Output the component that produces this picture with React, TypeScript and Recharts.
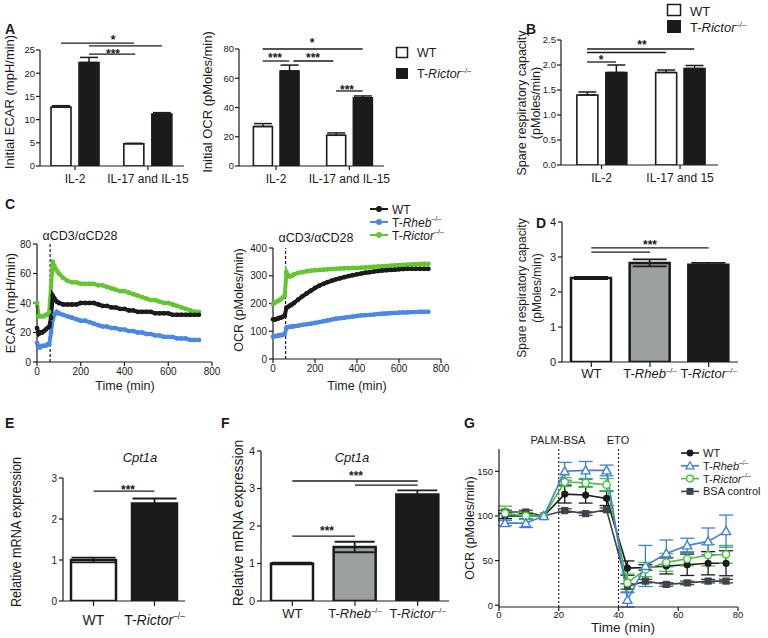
import React from 'react';
import { Bar, BarChart, Cell, ErrorBar, Line, LineChart, ReferenceLine, XAxis, YAxis } from 'recharts';

const FONT = '"Liberation Sans", Arial, Helvetica, sans-serif';
const INK = '#1b1b1b';
const GREY = '#9aa19f';
const GREEN = '#62c72f';
const BLUE = '#4a88e6';
const G_BLUE = '#3f7fe0';
const G_GREEN = '#46c43a';
const G_DARK = '#3d454c';

// ---- A: initial ECAR / OCR ----
const aGroups = ['IL-2', 'IL-17 and IL-15'];
const aEcarWT = [12.7, 4.8];
const aEcarWTErr = [0.3, 0.1];
const aEcarKO = [22.3, 11.2];
const aEcarKOErr = [1.1, 0.3];
const aEcarTicks = [0, 5, 10, 15, 20, 25];
const aOcrWT = [27, 21];
const aOcrWTErr = [2, 1.6];
const aOcrKO = [65, 46.7];
const aOcrKOErr = [4, 1.2];
const aOcrTicks = [0, 20, 40, 60, 80];

// ---- B: spare respiratory capacity ----
const bGroups = ['IL-2', 'IL-17 and 15'];
const bWT = [1.4, 1.85];
const bWTErr = [0.06, 0.05];
const bKO = [1.85, 1.93];
const bKOErr = [0.15, 0.06];
const bTicks = [0, 0.5, 1, 1.5, 2, 2.5];

// ---- C: time courses ----
const cTime = [0, 8, 16, 24, 32, 40, 48, 56, 64, 72, 80, 90, 100, 120, 140, 160, 180, 200, 220, 240, 260, 280, 300, 320, 340, 360, 380, 400, 420, 440, 460, 480, 500, 520, 540, 560, 580, 600, 620, 640, 660, 680, 700, 720, 740];
const cEcarWT = [23, 19, 20, 20, 21, 22, 23, 24, 30, 45, 43, 41, 40, 39, 39, 39, 39, 40, 40, 40, 40, 39, 38, 38, 37, 37, 36, 36, 35, 35, 34, 34, 34, 34, 33, 33, 33, 33, 32, 32, 32, 32, 32, 32, 32];
const cEcarRictor = [40, 31, 31, 31, 31, 32, 32, 34, 51, 68, 65, 62, 60, 57, 55, 54, 54, 53, 53, 53, 53, 52, 52, 51, 50, 49, 48, 48, 47, 46, 45, 44, 43, 42, 42, 41, 40, 40, 39, 38, 37, 36, 35, 34, 34];
const cEcarRheb = [13, 10, 10, 11, 11, 11, 12, 12, 20, 29, 32, 34, 33, 32, 31, 30, 29, 28, 28, 27, 26, 25, 24, 24, 23, 23, 22, 22, 21, 21, 20, 20, 19, 19, 18, 18, 17, 17, 17, 16, 16, 16, 15, 15, 15];
const cOcrWT = [143, 142, 144, 146, 148, 150, 153, 156, 185, 188, 192, 196, 202, 214, 226, 236, 246, 256, 264, 271, 277, 282, 287, 291, 295, 299, 302, 305, 308, 311, 313, 315, 317, 319, 320, 321, 322, 323, 324, 325, 325, 325, 325, 325, 325];
const cOcrRictor = [198, 203, 206, 209, 213, 217, 222, 228, 312, 300, 297, 300, 305, 310, 313, 316, 318, 320, 321, 322, 323, 324, 325, 326, 327, 327, 328, 328, 329, 330, 331, 332, 333, 334, 335, 336, 337, 338, 339, 340, 341, 342, 342, 343, 343];
const cOcrRheb = [80, 82, 83, 84, 85, 86, 88, 90, 113, 115, 116, 117, 118, 120, 123, 125, 127, 130, 133, 136, 139, 142, 145, 147, 149, 151, 153, 155, 157, 158, 159, 160, 162, 163, 164, 165, 166, 167, 168, 168, 169, 169, 170, 170, 170];
const cXTicks = [0, 200, 400, 600, 800];
const cEcarTicks = [0, 20, 40, 60, 80];
const cOcrTicks = [0, 100, 200, 300, 400];

// ---- D ----
const dCats = ['WT', 'T-Rheb', 'T-Rictor'];
const dVals = [2.4, 2.83, 2.78];
const dErr = [0.03, 0.1, 0.05];
const dTicks = [0, 1, 2, 3, 4];

// ---- E ----
const eCats = ['WT', 'T-Rictor'];
const eVals = [1.0, 2.38];
const eErr = [0.06, 0.12];
const eTicks = [0, 1, 2, 3];

// ---- F ----
const fCats = ['WT', 'T-Rheb', 'T-Rictor'];
const fVals = [1.0, 1.44, 2.84];
const fErr = [0.02, 0.14, 0.11];
const fTicks = [0, 1, 2, 3, 4];

// ---- G ----
const gTime = [2, 9, 15, 22, 29, 36, 43, 49, 56, 63, 70, 76];
const gWT = [100, 100, 100, 124.5, 123.4, 119.7, 41.6, 42.3, 44, 45.3, 47, 47];
const gWTErr = [3, 3, 0, 10, 9, 8, 8, 3, 9, 12, 13, 14];
const gRheb = [92, 92, 100, 150, 151, 151, 6, 44, 58, 67, 71.5, 83];
const gRhebErr = [3, 5, 0, 10, 10, 6, 8, 23, 15, 8, 15, 18];
const gRictor = [103, 100, 100, 138, 137, 135, 25, 40, 48, 52, 56, 57];
const gRictorErr = [8, 4, 0, 5, 5, 7, 10, 8, 10, 8, 12, 10];
const gBsa = [104.4, 104.4, 100, 106, 102.6, 107, 21, 27, 23.3, 25, 27, 27];
const gBsaErr = [2, 2, 0, 2, 2, 2, 3, 2, 2, 2, 2, 2];
const gXTicks = [0, 20, 40, 60, 80];
const gYTicks = [0, 50, 100, 150];

// significance brackets: [from, to, height]
const aEcarSig = [[1, 3.6, 26.5], [2, 4.6, 25.9], [2, 3.65, 24.1]];
const aOcrSig = [[1, 4.75, 80], [1, 2, 71.8], [2.15, 3.65, 71.8], [3.75, 4.75, 51.3]];
const bSig = [[1, 4.7, 2.32], [1, 3.72, 2.25], [1, 2, 2.06]];
const dSig: [string, string, number][] = [['WT', 'T-Rictor', 3.26], ['WT', 'T-Rheb', 3.14]];
const eSig: [string, string, number][] = [['WT', 'T-Rictor', 2.68]];
const fSig: [string, string, number][] = [['WT', 'T-Rheb', 1.73], ['WT', 'T-Rictor', 3.2], ['T-Rheb', 'T-Rictor', 3.09]];

const axisLine = { stroke: INK, strokeWidth: 1.2 };
const tickLine = { stroke: INK, strokeWidth: 1.2 };

type Box = { style: React.CSSProperties; width: number; height: number; margin: any; yw: number; xh: number };

function frame(pl: number, pt: number, pr: number, pb: number, mt = 16, xh = 26, yw = 32, mr = 24): Box {
  const left = pl - yw;
  const top = pt - mt;
  return {
    style: { position: 'absolute', left, top },
    width: pr - left + mr,
    height: pb - top + xh,
    margin: { top: mt, right: mr, bottom: 0, left: 0 },
    yw,
    xh,
  };
}

function Gene({ name, size }: { name: string; size: number }) {
  if (!name.startsWith('T-')) return <tspan>{name}</tspan>;
  return (
    <>
      <tspan>T-</tspan>
      <tspan fontStyle="italic">{name.slice(2)}</tspan>
      <tspan fontSize={size * 0.6} dy={-size * 0.42}>–/–</tspan>
    </>
  );
}

const geneTick = (size: number, drop: number) => (p: any) => (
  <text x={p.x} y={p.y + drop} textAnchor="middle" fontSize={size} fill={INK} fontFamily={FONT}>
    <Gene name={p.payload.value} size={size} />
  </text>
);

function groupRows(wt: number[], wtErr: number[], ko: number[], koErr: number[], slots: number[]) {
  return [
    { pos: slots[0], v: wt[0], err: [0, wtErr[0]], fill: '#fff' },
    { pos: slots[1], v: ko[0], err: [0, koErr[0]], fill: INK },
    { pos: slots[2], v: wt[1], err: [0, wtErr[1]], fill: '#fff' },
    { pos: slots[3], v: ko[1], err: [0, koErr[1]], fill: INK },
  ];
}

function GroupBars(props: {
  box: Box; rows: any[]; domain: [number, number]; labelPos: number[]; labels: string[];
  yMax: number; yTicks: number[]; yFmt?: (v: number) => string; sig: number[][]; barSize: number; cap: number;
}) {
  const { box, rows } = props;
  return (
    <div style={box.style}>
      <BarChart width={box.width} height={box.height} data={rows} margin={box.margin}>
        <XAxis
          type="number"
          dataKey="pos"
          domain={props.domain}
          ticks={props.labelPos}
          tickFormatter={(v: number) => props.labels[props.labelPos.indexOf(v)] ?? ''}
          height={box.xh}
          axisLine={axisLine}
          tickLine={tickLine}
          tickSize={4}
          tickMargin={4}
          interval={0}
          allowDataOverflow
          tick={{ fontSize: 12, fill: INK, fontFamily: FONT }}
        />
        <YAxis
          type="number"
          domain={[0, props.yMax]}
          ticks={props.yTicks}
          width={box.yw}
          tickFormatter={props.yFmt}
          axisLine={axisLine}
          tickLine={tickLine}
          tickSize={4}
          tickMargin={1}
          interval={0}
          allowDataOverflow
          tick={{ fontSize: 9.5, fill: INK, fontFamily: FONT }}
        />
        <Bar dataKey="v" barSize={props.barSize} stroke={INK} strokeWidth={1.6} isAnimationActive={false}>
          {rows.map((r, i) => (
            <Cell key={i} fill={r.fill} />
          ))}
          <ErrorBar dataKey="err" width={props.cap} stroke={INK} strokeWidth={1.5} direction="y" />
        </Bar>
        {props.sig.map(([x1, x2, y], i) => (
          <ReferenceLine key={i} segment={[{ x: x1, y }, { x: x2, y }]} stroke={INK} strokeWidth={1.3} ifOverflow="visible" />
        ))}
      </BarChart>
    </div>
  );
}

function CatBars(props: {
  box: Box; cats: string[]; vals: number[]; errs: number[]; fills: string[]; yMax: number; yTicks: number[];
  sig: [string, string, number][]; barSize: number; cap: number; fs: number; drop: number; tfs: number;
}) {
  const { box } = props;
  const rows = props.cats.map((c, i) => ({ name: c, v: props.vals[i], e: props.errs[i], fill: props.fills[i] }));
  return (
    <div style={box.style}>
      <BarChart width={box.width} height={box.height} data={rows} margin={box.margin}>
        <XAxis
          dataKey="name"
          type="category"
          height={box.xh}
          axisLine={axisLine}
          tickLine={tickLine}
          tickSize={5}
          tickMargin={2}
          interval={0}
          tick={geneTick(props.fs, props.drop)}
        />
        <YAxis
          type="number"
          domain={[0, props.yMax]}
          ticks={props.yTicks}
          width={box.yw}
          axisLine={axisLine}
          tickLine={tickLine}
          tickSize={4}
          interval={0}
          allowDataOverflow
          tick={{ fontSize: props.tfs, fill: INK, fontFamily: FONT }}
        />
        <Bar dataKey="v" barSize={props.barSize} stroke={INK} strokeWidth={2.5} isAnimationActive={false}>
          {rows.map((r, i) => (
            <Cell key={i} fill={r.fill} />
          ))}
          <ErrorBar dataKey="e" width={props.cap} stroke={INK} strokeWidth={1.8} direction="y" />
        </Bar>
        {props.sig.map(([x1, x2, y], i) => (
          <ReferenceLine key={i} segment={[{ x: x1, y }, { x: x2, y }]} stroke={INK} strokeWidth={1.4} ifOverflow="visible" />
        ))}
      </BarChart>
    </div>
  );
}

function TimeCourse(props: { box: Box; rows: any[]; yMax: number; yTicks: number[] }) {
  const { box } = props;
  const smallDot = (c: string) => (p: any) => <circle key={p.index} cx={p.cx} cy={p.cy} r={2.4} fill={c} />;
  return (
    <div style={box.style}>
      <LineChart width={box.width} height={box.height} data={props.rows} margin={box.margin}>
        <XAxis
          type="number"
          dataKey="t"
          domain={[0, 800]}
          ticks={cXTicks}
          height={box.xh}
          axisLine={axisLine}
          tickLine={tickLine}
          tickSize={4}
          interval={0}
          tick={{ fontSize: 10, fill: INK, fontFamily: FONT }}
        />
        <YAxis
          type="number"
          domain={[0, props.yMax]}
          ticks={props.yTicks}
          width={box.yw}
          axisLine={axisLine}
          tickLine={tickLine}
          tickSize={4}
          interval={0}
          tick={{ fontSize: 10, fill: INK, fontFamily: FONT }}
        />
        <ReferenceLine x={60} stroke={INK} strokeWidth={1.2} strokeDasharray="3 2" ifOverflow="visible" />
        <Line dataKey="rictor" stroke={GREEN} strokeWidth={4} dot={smallDot(GREEN)} isAnimationActive={false} />
        <Line dataKey="rheb" stroke={BLUE} strokeWidth={4} dot={smallDot(BLUE)} isAnimationActive={false} />
        <Line dataKey="wt" stroke={INK} strokeWidth={4} dot={smallDot(INK)} isAnimationActive={false} />
      </LineChart>
    </div>
  );
}

const filledCircle = (c: string) => (p: any) => <circle key={p.index} cx={p.cx} cy={p.cy} r={3.6} fill={c} />;
const openCircle = (c: string) => (p: any) => (
  <circle key={p.index} cx={p.cx} cy={p.cy} r={3.6} fill="#fff" stroke={c} strokeWidth={1.5} />
);
const openTri = (c: string) => (p: any) => (
  <path key={p.index} d={`M${p.cx},${p.cy - 4.5}L${p.cx + 4.5},${p.cy + 3.5}L${p.cx - 4.5},${p.cy + 3.5}Z`} fill="#fff" stroke={c} strokeWidth={1.4} />
);
const square = (c: string) => (p: any) => <rect key={p.index} x={p.cx - 3.6} y={p.cy - 3.6} width={7.2} height={7.2} fill={c} />;

function Txt(p: { x: number; y: number; children: React.ReactNode; size?: number; anchor?: string; bold?: boolean; italic?: boolean; rot?: boolean; len?: number }) {
  return (
    <text
      x={p.x}
      y={p.y}
      fontSize={p.size ?? 12}
      textAnchor={(p.anchor ?? 'start') as any}
      fontWeight={p.bold ? 700 : 400}
      fontStyle={p.italic ? 'italic' : 'normal'}
      transform={p.rot ? `rotate(-90 ${p.x} ${p.y})` : undefined}
      fill={INK}
      fontFamily={FONT}
      textLength={p.len}
      lengthAdjust={p.len ? 'spacingAndGlyphs' : undefined}
    >
      {p.children}
    </text>
  );
}

export default function App() {
  const aEcarRows = groupRows(aEcarWT, aEcarWTErr, aEcarKO, aEcarKOErr, [1, 2, 3.6, 4.6]);
  const aOcrRows = groupRows(aOcrWT, aOcrWTErr, aOcrKO, aOcrKOErr, [1, 2, 3.75, 4.75]);
  const bRows = groupRows(bWT, bWTErr, bKO, bKOErr, [1, 2, 3.72, 4.7]);
  const cEcarRows = cTime.map((t, i) => ({ t, wt: cEcarWT[i], rheb: cEcarRheb[i], rictor: cEcarRictor[i] }));
  const cOcrRows = cTime.map((t, i) => ({ t, wt: cOcrWT[i], rheb: cOcrRheb[i], rictor: cOcrRictor[i] }));
  const gRows = gTime.map((t, i) => ({
    t,
    wt: gWT[i], wtE: gWTErr[i],
    rheb: gRheb[i], rhebE: gRhebErr[i],
    rictor: gRictor[i], rictorE: gRictorErr[i],
    bsa: gBsa[i], bsaE: gBsaErr[i],
  }));
  const gBox = frame(499, 449, 738, 607, 8, 22, 30, 8);

  const gLegend = [
    { label: 'WT', color: INK, kind: 'dot' },
    { label: 'T-Rheb', color: G_BLUE, kind: 'tri' },
    { label: 'T-Rictor', color: G_GREEN, kind: 'ring' },
    { label: 'BSA control', color: G_DARK, kind: 'sq' },
  ];
  const cLegend = [
    { label: 'WT', color: INK },
    { label: 'T-Rheb', color: BLUE },
    { label: 'T-Rictor', color: GREEN },
  ];

  return (
    <div style={{ position: 'absolute', left: 0, top: 0, width: 768, height: 638, background: '#fff', overflow: 'hidden', fontFamily: FONT }}>
      <GroupBars box={frame(40, 50, 184, 166)} rows={aEcarRows} domain={[0.25, 5.39]} labelPos={[1.5, 4.1]} labels={aGroups}
        yMax={25} yTicks={aEcarTicks} sig={aEcarSig} barSize={20} cap={9} />
      <GroupBars box={frame(239, 49, 384, 166)} rows={aOcrRows} domain={[0.11, 5.55]} labelPos={[1.5, 4.25]} labels={aGroups}
        yMax={80} yTicks={aOcrTicks} sig={aOcrSig} barSize={19} cap={9} />
      <GroupBars box={frame(561, 40, 718, 165)} rows={bRows} domain={[0.1, 5.52]} labelPos={[1.5, 4.21]} labels={bGroups}
        yMax={2.5} yTicks={bTicks} yFmt={(v: number) => v.toFixed(1)} sig={bSig} barSize={21} cap={9} />

      <TimeCourse box={frame(37, 244, 212, 362, 10, 26, 30)} rows={cEcarRows} yMax={80} yTicks={cEcarTicks} />
      <TimeCourse box={frame(273, 248, 441, 359, 10, 26, 30)} rows={cOcrRows} yMax={400} yTicks={cOcrTicks} />

      <CatBars box={frame(562, 222, 738, 362, 10, 30, 30, 20)} cats={dCats} vals={dVals} errs={dErr} fills={['#fff', GREY, INK]}
        yMax={4} yTicks={dTicks} sig={dSig} barSize={40} cap={17} fs={13} drop={9} tfs={11} />
      <CatBars box={frame(63, 478, 185, 601, 10, 32, 30)} cats={eCats} vals={eVals} errs={eErr} fills={['#fff', INK]}
        yMax={3} yTicks={eTicks} sig={eSig} barSize={45} cap={22} fs={14} drop={17} tfs={10} />
      <CatBars box={frame(261, 451, 449, 601, 10, 30, 30)} cats={fCats} vals={fVals} errs={fErr} fills={['#fff', GREY, INK]}
        yMax={4} yTicks={fTicks} sig={fSig} barSize={42} cap={20} fs={13} drop={10} tfs={11} />

      <div style={gBox.style}>
        <LineChart width={gBox.width} height={gBox.height} data={gRows} margin={gBox.margin}>
          <XAxis type="number" dataKey="t" domain={[0, 80]} ticks={gXTicks} height={22} axisLine={axisLine} tickLine={tickLine}
            tickSize={4} tickMargin={0} interval={0} tick={{ fontSize: 9.5, fill: INK, fontFamily: FONT }} />
          <YAxis type="number" domain={[0, 175]} ticks={gYTicks} width={30} axisLine={axisLine} tickLine={tickLine}
            tickSize={4} interval={0} tick={{ fontSize: 9.5, fill: INK, fontFamily: FONT }} />
          <ReferenceLine x={20} stroke={INK} strokeWidth={1.1} strokeDasharray="2 2" />
          <ReferenceLine x={40} stroke={INK} strokeWidth={1.1} strokeDasharray="2 2" />
          <Line dataKey="bsa" stroke={G_DARK} strokeWidth={1.6} dot={square(G_DARK)} isAnimationActive={false}>
            <ErrorBar dataKey="bsaE" width={7} stroke={G_DARK} strokeWidth={1.3} direction="y" />
          </Line>
          <Line dataKey="wt" stroke={INK} strokeWidth={1.6} dot={filledCircle(INK)} isAnimationActive={false}>
            <ErrorBar dataKey="wtE" width={7} stroke={INK} strokeWidth={1.3} direction="y" />
          </Line>
          <Line dataKey="rictor" stroke={G_GREEN} strokeWidth={1.6} dot={openCircle(G_GREEN)} isAnimationActive={false}>
            <ErrorBar dataKey="rictorE" width={7} stroke={G_GREEN} strokeWidth={1.3} direction="y" />
          </Line>
          <Line dataKey="rheb" stroke={G_BLUE} strokeWidth={1.6} dot={openTri(G_BLUE)} isAnimationActive={false}>
            <ErrorBar dataKey="rhebE" width={7} stroke={G_BLUE} strokeWidth={1.3} direction="y" />
          </Line>
        </LineChart>
      </div>

      <svg width={768} height={638} style={{ position: 'absolute', left: 0, top: 0, pointerEvents: 'none' }}>
        {/* panel letters */}
        <Txt x={5} y={34} size={14} bold>A</Txt>
        <Txt x={526} y={34} size={14} bold>B</Txt>
        <Txt x={5} y={209} size={14} bold>C</Txt>
        <Txt x={536} y={228} size={14} bold>D</Txt>
        <Txt x={5} y={428} size={14} bold>E</Txt>
        <Txt x={221} y={428} size={14} bold>F</Txt>
        <Txt x={464} y={428} size={14} bold>G</Txt>

        {/* A */}
        <Txt x={14} y={102} size={13} anchor="middle" rot>Initial ECAR (mpH/min)</Txt>
        <Txt x={212} y={102} size={13} anchor="middle" rot>Initial OCR (pMoles/min)</Txt>
        <Txt x={113} y={44} size={12} anchor="middle" bold>*</Txt>
        <Txt x={113} y={58} size={12} anchor="middle" bold>***</Txt>
        <Txt x={312} y={46.5} size={12} anchor="middle" bold>*</Txt>
        <Txt x={275} y={62} size={12} anchor="middle" bold>***</Txt>
        <Txt x={313} y={62} size={12} anchor="middle" bold>***</Txt>
        <Txt x={347} y={94} size={12} anchor="middle" bold>***</Txt>
        <rect x={396.5} y={47.5} width={11} height={10} fill="#fff" stroke={INK} strokeWidth={1.5} />
        <rect x={396} y={68} width={12} height={11} fill={INK} />
        <Txt x={417} y={57} size={12.5}>WT</Txt>
        <Txt x={417} y={78} size={12.5}><Gene name="T-Rictor" size={12.5} /></Txt>

        {/* B */}
        <Txt x={526} y={103} size={12.5} anchor="middle" rot>Spare respiratory capacity</Txt>
        <Txt x={540} y={103} size={12.5} anchor="middle" rot>(pMoles/min)</Txt>
        <Txt x={642} y={49} size={12} anchor="middle" bold>**</Txt>
        <Txt x={601} y={64} size={12} anchor="middle" bold>*</Txt>
        <rect x={667.5} y={4.5} width={13} height={11} fill="#fff" stroke={INK} strokeWidth={1.5} />
        <rect x={667} y={20} width={14} height={13} fill={INK} />
        <Txt x={690} y={16} size={13}>WT</Txt>
        <Txt x={690} y={32} size={13}><Gene name="T-Rictor" size={13} /></Txt>

        {/* C */}
        <Txt x={80} y={240} size={12.5} anchor="middle">αCD3/αCD28</Txt>
        <Txt x={316} y={242} size={12.5} anchor="middle">αCD3/αCD28</Txt>
        <Txt x={15} y={303} size={13} anchor="middle" rot>ECAR (mpH/min)</Txt>
        <Txt x={243} y={300} size={12.5} anchor="middle" rot>OCR (pMoles/min)</Txt>
        <Txt x={125} y={390} size={12.5} anchor="middle">Time (min)</Txt>
        <Txt x={357} y={390} size={12.5} anchor="middle">Time (min)</Txt>
        {cLegend.map((it, i) => (
          <g key={it.label}>
            <line x1={370} x2={388} y1={209 + i * 13} y2={209 + i * 13} stroke={it.color} strokeWidth={2} />
            <circle cx={379} cy={209 + i * 13} r={3} fill={it.color} />
            <Txt x={392} y={213.5 + i * 13} size={12}><Gene name={it.label} size={12} /></Txt>
          </g>
        ))}

        {/* D */}
        <Txt x={526} y={288} size={12} anchor="middle" rot>Spare respiratory capacity</Txt>
        <Txt x={541} y={288} size={12} anchor="middle" rot>(pMoles/min)</Txt>
        <Txt x={650} y={249} size={12} anchor="middle" bold>***</Txt>

        {/* E */}
        <Txt x={140} y={462} size={13} anchor="middle" italic>Cpt1a</Txt>
        <Txt x={21} y={532} size={14} anchor="middle" rot len={150}>Relative mRNA expression</Txt>
        <Txt x={128} y={494} size={12} anchor="middle" bold>***</Txt>

        {/* F */}
        <Txt x={352} y={462} size={13} anchor="middle" italic>Cpt1a</Txt>
        <Txt x={243} y={523} size={14} anchor="middle" rot>Relative mRNA expression</Txt>
        <Txt x={327} y={535} size={12} anchor="middle" bold>***</Txt>
        <Txt x={356} y={480} size={12} anchor="middle" bold>***</Txt>

        {/* G */}
        <Txt x={558} y={444} size={11} anchor="middle">PALM-BSA</Txt>
        <Txt x={618} y={444} size={11} anchor="middle">ETO</Txt>
        <Txt x={474} y={528} size={12.5} anchor="middle" rot>OCR (pMoles/min)</Txt>
        <Txt x={623} y={632} size={13.5} anchor="middle">Time (min)</Txt>
        {gLegend.map((it, i) => {
          const y = 453 + i * 12.8;
          const c = it.color;
          return (
            <g key={it.label}>
              <line x1={681} x2={699} y1={y} y2={y} stroke={c} strokeWidth={1.6} />
              {it.kind === 'dot' && <circle cx={690} cy={y} r={3.4} fill={c} />}
              {it.kind === 'ring' && <circle cx={690} cy={y} r={3.4} fill="#fff" stroke={c} strokeWidth={1.4} />}
              {it.kind === 'tri' && <path d={`M690,${y - 4}L694,${y + 3}L686,${y + 3}Z`} fill="#fff" stroke={c} strokeWidth={1.3} />}
              {it.kind === 'sq' && <rect x={686.5} y={y - 3.5} width={7} height={7} fill={c} />}
              <Txt x={703} y={y + 4} size={11}><Gene name={it.label} size={11} /></Txt>
            </g>
          );
        })}
      </svg>
    </div>
  );
}
